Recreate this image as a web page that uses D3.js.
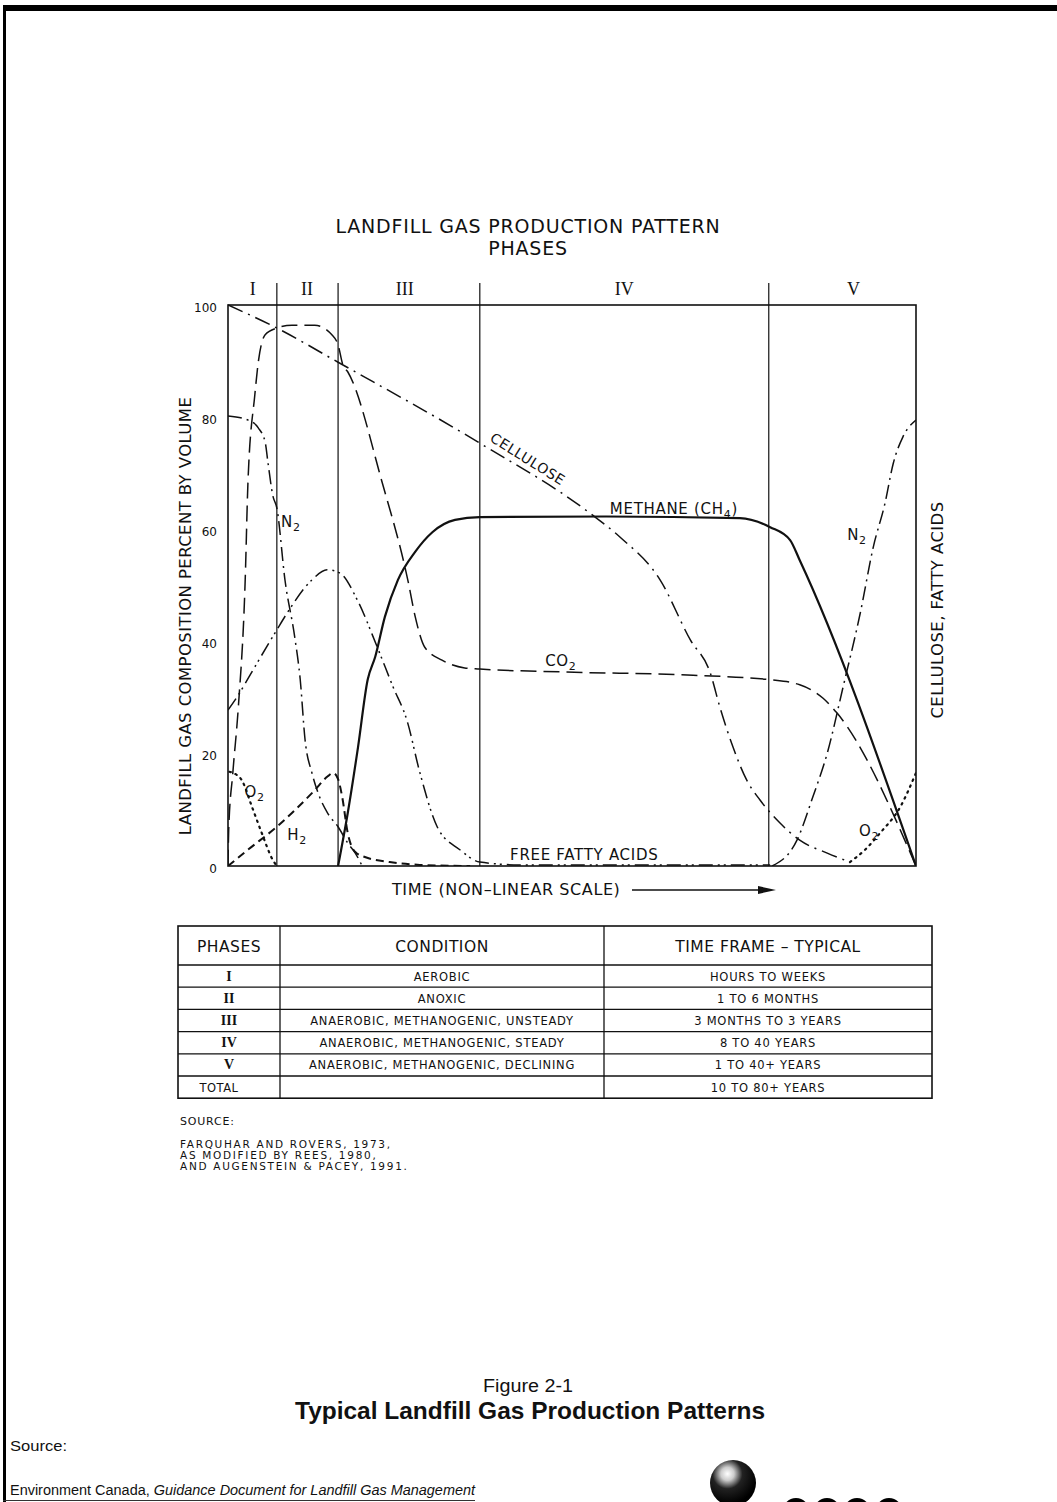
<!DOCTYPE html>
<html>
<head>
<meta charset="utf-8">
<script src="https://cdn.jsdelivr.net/npm/d3@7"></script>
<style>
  body { margin: 0; background: #fff; }
  svg { display: block; }
</style>
</head>
<body>
<svg id="chart"></svg>
<script>
// landfill gas production pattern (Farquhar & Rovers)

// ---- data (time in relative units 0..100, values in % by volume) ----
const yTicks = [0, 20, 40, 60, 80, 100];
const phaseNames = ["I", "II", "III", "IV", "V"];
const phaseBounds = [0, 7.1, 16.0, 36.6, 78.6, 100];
const phaseLabelAt = [3.6, 11.5, 25.7, 57.6, 90.9];

const methane = [[16.0, 0], [17.4, 9.4], [18.9, 21.2], [20.3, 33.2], [21.4, 37.3], [22.8, 44.4],
  [24.7, 51.0], [27.2, 56.0], [29.7, 59.5], [33.0, 61.7], [36.6, 62.2], [55.0, 62.3], [74.4, 62.0],
  [78.8, 60.4], [81.7, 58.1], [83.1, 54.5], [100, 0]];

const co2 = [[0, 0], [0.1, 6.4], [0.7, 16.6], [1.5, 28.3], [2.5, 51.0], [2.9, 68.4], [3.9, 84.0],
  [4.4, 89.8], [5.4, 94.7], [7.1, 95.9], [9.3, 96.4], [12.6, 96.4], [15.1, 94.7], [16.0, 92.9],
  [16.7, 89.3], [17.4, 88.1], [22.4, 68.4], [26.2, 50.6], [27.2, 44.5], [28.6, 39.0], [31.1, 36.7],
  [34.4, 35.3], [36.6, 35.1], [48.3, 34.6], [67.6, 34.0], [78.8, 33.2], [83.1, 32.3], [86.5, 29.9],
  [88.5, 27.3], [100, 0]];

const n2Early = [[0, 80.2], [2.9, 79.5], [4.4, 78.1], [5.4, 75.6], [5.8, 72.0], [6.5, 66.1],
  [7.1, 63.8], [8.3, 50.8], [9.7, 40.8], [10.5, 33.2], [11.2, 22.5], [12.2, 16.6], [13.1, 13.0],
  [14.5, 9.4], [16.0, 7.0], [17.4, 4.1], [18.5, 2.3], [19.5, 0]];

const n2Late = [[79.1, 0], [82.7, 4.6], [85.0, 12.3], [87.1, 20.1], [89.4, 31.9], [91.9, 45.1],
  [93.8, 56.9], [95.5, 64.7], [96.7, 71.8], [98.1, 76.5], [100, 79.5]];

const h2 = [[0, 0], [2.9, 2.9], [7.1, 7.0], [12.6, 13.5], [14.5, 16.0], [15.3, 16.6], [16.0, 15.5],
  [16.6, 12.3], [17.4, 5.9], [18.5, 2.5], [19.9, 1.6], [23.5, 0.7], [27.9, 0.2], [35.2, 0]];

const o2Early = [[0.2, 16.8], [0.7, 16.6], [2.0, 15.3], [3.5, 10.5], [4.9, 5.9], [6.5, 1.1], [7.1, 0]];
const o2Late = [[90.4, 0.7], [92.6, 2.9], [94.8, 5.9], [97.7, 10.5], [100, 16.6]];

const cellulose = [[0, 100], [7.1, 95.9], [16.0, 89.8], [36.3, 75.6], [52.6, 62.9], [57.0, 58.6],
  [62.8, 51.0], [67.2, 40.3], [70.1, 34.4], [71.5, 28.3], [73.4, 21.2], [75.4, 15.3], [77.3, 11.8],
  [80.2, 7.7], [83.1, 4.6], [87.1, 2.3], [90.4, 0.7]];

const fattyAcids = [[0, 27.8], [1.3, 30.1], [3.9, 35.5], [7.1, 42.1], [8.7, 45.3], [12.2, 51.0],
  [14.4, 52.8], [16.3, 52.2], [18.8, 47.4], [21.7, 39.0], [24.0, 31.9], [26.0, 26.0], [27.9, 16.6],
  [30.4, 7.0], [33.7, 2.9], [36.6, 0.7], [42.4, 0.2], [78.8, 0.2]];

// table rows
const tableHeaders = ["PHASES", "CONDITION", "TIME FRAME \u2013 TYPICAL"];
const tablePhases = ["I", "II", "III", "IV", "V", "TOTAL"];
const tableConditions = ["AEROBIC", "ANOXIC", "ANAEROBIC, METHANOGENIC, UNSTEADY",
  "ANAEROBIC, METHANOGENIC, STEADY", "ANAEROBIC, METHANOGENIC, DECLINING", ""];
const tableTimes = ["HOURS TO WEEKS", "1 TO 6 MONTHS", "3 MONTHS TO 3 YEARS", "8 TO 40 YEARS",
  "1 TO 40+ YEARS", "10 TO 80+ YEARS"];

const sourceLines = ["FARQUHAR AND ROVERS, 1973,", "AS MODIFIED BY REES, 1980,", "AND AUGENSTEIN & PACEY, 1991."];

// ---- layout ----
const W = 1057, H = 1502;
const CAD = "'DejaVu Sans', sans-serif";
const ROMAN = "'Liberation Serif', 'DejaVu Serif', serif";
const NARROW = "'Liberation Sans Narrow', 'Liberation Sans', Arial, sans-serif";

const svg = d3.select("#chart").attr("width", W).attr("height", H);

const plot = { left: 228, right: 916, top: 305, bottom: 866 };
const x = d3.scaleLinear().domain([0, 100]).range([plot.left, plot.right]);
const y = d3.scaleLinear().domain([0, 100]).range([plot.bottom, plot.top]);

function cadText(sel, size, spacing) {
  return sel.attr("font-family", CAD).attr("font-size", size)
    .attr("letter-spacing", spacing || 0).attr("fill", "#111");
}

// page frame
svg.append("rect").attr("x", 3).attr("y", 5).attr("width", W - 3).attr("height", 6).attr("fill", "#000");
svg.append("rect").attr("x", 3).attr("y", 5).attr("width", 3).attr("height", H - 5).attr("fill", "#000");
svg.append("line").attr("x1", 3).attr("x2", 475).attr("y1", 1500.5).attr("y2", 1500.5)
  .attr("stroke", "#333").attr("stroke-width", 1);

// title
cadText(svg.append("text"), 19, 0.8).attr("x", 528).attr("y", 233).attr("text-anchor", "middle")
  .text("LANDFILL GAS PRODUCTION PATTERN");
cadText(svg.append("text"), 19, 0.8).attr("x", 528).attr("y", 255).attr("text-anchor", "middle")
  .text("PHASES");

// phase labels + dividers
svg.selectAll(".phase-label").data(phaseNames).enter().append("text")
  .attr("class", "phase-label")
  .attr("x", (d, i) => x(phaseLabelAt[i]))
  .attr("y", 295)
  .attr("text-anchor", "middle")
  .attr("font-family", ROMAN).attr("font-size", 18).attr("fill", "#111")
  .text(d => d);

svg.selectAll(".phase-line").data(phaseBounds.slice(1, -1)).enter().append("line")
  .attr("class", "phase-line")
  .attr("x1", d => x(d)).attr("x2", d => x(d))
  .attr("y1", 283).attr("y2", plot.bottom)
  .attr("stroke", "#111").attr("stroke-width", 1.2);

// frame of the plot
svg.append("rect")
  .attr("x", plot.left).attr("y", plot.top)
  .attr("width", plot.right - plot.left).attr("height", plot.bottom - plot.top)
  .attr("fill", "none").attr("stroke", "#111").attr("stroke-width", 1.6);

// y axis labels
const yAxis = svg.append("g")
  .attr("transform", `translate(${plot.left},0)`)
  .call(d3.axisLeft(y).tickValues(yTicks).tickSize(0).tickPadding(11));
yAxis.select(".domain").remove();
yAxis.selectAll("text").attr("font-family", CAD).attr("font-size", 12).attr("fill", "#111")
  .attr("dy", "0.5em");

// axis titles
cadText(svg.append("text"), 16.5, 0.4)
  .attr("transform", "translate(191,616) rotate(-90)")
  .attr("text-anchor", "middle")
  .text("LANDFILL GAS COMPOSITION PERCENT BY VOLUME");
cadText(svg.append("text"), 16.5, 0.4)
  .attr("transform", "translate(943,610) rotate(-90)")
  .attr("text-anchor", "middle")
  .text("CELLULOSE, FATTY ACIDS");

cadText(svg.append("text"), 16, 0.6).attr("x", 392).attr("y", 895)
  .text("TIME (NON\u2013LINEAR SCALE)");
svg.append("line").attr("x1", 632).attr("x2", 762).attr("y1", 890).attr("y2", 890)
  .attr("stroke", "#111").attr("stroke-width", 1.5);
svg.append("path").attr("d", "M758,886 L776,890 L758,894 Z").attr("fill", "#111");

// curves
svg.append("clipPath").attr("id", "plot-clip").append("rect")
  .attr("x", plot.left).attr("y", plot.top - 2)
  .attr("width", plot.right - plot.left).attr("height", plot.bottom - plot.top + 2);

const line = d3.line()
  .x(d => x(d[0]))
  .y(d => y(d[1]))
  .curve(d3.curveMonotoneX);

const curves = [
  { data: cellulose, dash: "16,6,2,6", width: 1.5 },
  { data: fattyAcids, dash: "14,5,2,4,2,5", width: 1.5 },
  { data: co2, dash: "16,7", width: 1.5 },
  { data: n2Early, dash: "14,5,2,5", width: 1.5 },
  { data: n2Late, dash: "14,5,2,5", width: 1.5 },
  { data: h2, dash: "8,5", width: 2 },
  { data: o2Early, dash: "1.5,5", width: 2.2 },
  { data: o2Late, dash: "1.5,5", width: 2.2 },
  { data: methane, dash: null, width: 2.2 }
];

const curveG = svg.append("g").attr("clip-path", "url(#plot-clip)");
curveG.selectAll("path").data(curves).enter().append("path")
  .attr("d", d => line(d.data))
  .attr("fill", "none")
  .attr("stroke", "#111")
  .attr("stroke-width", d => d.width)
  .attr("stroke-dasharray", d => d.dash)
  .attr("stroke-linecap", d => d.dash && d.dash.startsWith("1.5") ? "round" : "butt");

// curve labels (anchored in data units)
const curveLabels = [
  { main: "METHANE (CH", sub: "4", tail: ")", t: 55.5, v: 62.7 },
  { main: "CO", sub: "2", tail: "", t: 46.1, v: 35.7 },
  { main: "FREE FATTY ACIDS", sub: "", tail: "", t: 41.0, v: 1.1 },
  { main: "N", sub: "2", tail: "", t: 7.7, v: 60.4 },
  { main: "H", sub: "2", tail: "", t: 8.6, v: 4.6 },
  { main: "O", sub: "2", tail: "", t: 2.4, v: 12.3 },
  { main: "N", sub: "2", tail: "", t: 90.0, v: 58.1 },
  { main: "O", sub: "2", tail: "", t: 91.7, v: 5.3 }
];

curveLabels.forEach(l => {
  const t = cadText(svg.append("text"), 15, 0.7).attr("x", x(l.t)).attr("y", y(l.v));
  t.append("tspan").text(l.main);
  if (l.sub) t.append("tspan").attr("font-size", 11).attr("dy", 4).text(l.sub);
  if (l.tail) t.append("tspan").attr("dy", -4).text(l.tail);
});

cadText(svg.append("text"), 14, 0.6)
  .attr("transform", `translate(${x(43.2)},${y(71.8)}) rotate(32)`)
  .attr("text-anchor", "middle")
  .text("CELLULOSE");

// ---- table ----
const cols = [178, 280, 604, 932];
const headTop = 926, headBottom = 965, rowH = 22.2;
const tableBottom = headBottom + rowH * tablePhases.length;
const tg = svg.append("g").attr("stroke", "#111");

tg.append("rect").attr("x", cols[0]).attr("y", headTop)
  .attr("width", cols[3] - cols[0]).attr("height", tableBottom - headTop)
  .attr("fill", "none").attr("stroke-width", 1.6);
cols.slice(1, 3).forEach(c => {
  tg.append("line").attr("x1", c).attr("x2", c).attr("y1", headTop).attr("y2", tableBottom)
    .attr("stroke-width", 1.3);
});
d3.range(tablePhases.length).forEach(i => {
  const yy = headBottom + rowH * i;
  tg.append("line").attr("x1", cols[0]).attr("x2", cols[3]).attr("y1", yy).attr("y2", yy)
    .attr("stroke-width", 1.3);
});

const colMid = [(cols[0] + cols[1]) / 2, (cols[1] + cols[2]) / 2, (cols[2] + cols[3]) / 2];
tableHeaders.forEach((h, i) => {
  cadText(svg.append("text"), 15.5, 0.5).attr("x", colMid[i]).attr("y", 952)
    .attr("text-anchor", "middle").text(h);
});

tablePhases.forEach((p, i) => {
  const base = headBottom + rowH * i + rowH / 2 + 4.5;
  if (p === "TOTAL") {
    cadText(svg.append("text"), 11.5, 0.5).attr("x", 219).attr("y", base)
      .attr("text-anchor", "middle").text(p);
  } else {
    svg.append("text").attr("x", colMid[0]).attr("y", base).attr("text-anchor", "middle")
      .attr("font-family", ROMAN).attr("font-size", 14).attr("font-weight", "bold")
      .attr("fill", "#111").text(p);
  }
  cadText(svg.append("text"), 11.5, 0.75).attr("x", colMid[1]).attr("y", base)
    .attr("text-anchor", "middle").text(tableConditions[i]);
  cadText(svg.append("text"), 11.5, 0.75).attr("x", colMid[2]).attr("y", base)
    .attr("text-anchor", "middle").text(tableTimes[i]);
});

// source block under the table
cadText(svg.append("text"), 11, 0.8).attr("x", 180).attr("y", 1125).text("SOURCE:");
sourceLines.forEach((s, i) => {
  cadText(svg.append("text"), 10.5, 1.7).attr("x", 180).attr("y", 1148 + i * 11).text(s);
});

// ---- footer ----
svg.append("text").attr("x", 528).attr("y", 1392).attr("text-anchor", "middle")
  .attr("font-family", NARROW).attr("font-size", 18).attr("fill", "#111")
  .attr("textLength", 90).attr("lengthAdjust", "spacingAndGlyphs")
  .text("Figure 2-1");
svg.append("text").attr("x", 530).attr("y", 1419).attr("text-anchor", "middle")
  .attr("font-family", NARROW).attr("font-size", 24).attr("font-weight", "bold").attr("fill", "#111")
  .attr("textLength", 470).attr("lengthAdjust", "spacingAndGlyphs")
  .text("Typical Landfill Gas Production Patterns");

svg.append("text").attr("x", 10).attr("y", 1451)
  .attr("font-family", NARROW).attr("font-size", 14).attr("fill", "#111")
  .attr("textLength", 57).attr("lengthAdjust", "spacingAndGlyphs")
  .text("Source:");
const src = svg.append("text").attr("x", 10).attr("y", 1495)
  .attr("font-family", NARROW).attr("font-size", 14).attr("fill", "#111")
  .attr("textLength", 465).attr("lengthAdjust", "spacingAndGlyphs");
src.append("tspan").text("Environment Canada, ");
src.append("tspan").attr("font-style", "italic").text("Guidance Document for Landfill Gas Management");

// logo (sphere + cut-off letters)
const grad = svg.append("defs").append("radialGradient").attr("id", "ball")
  .attr("cx", "38%").attr("cy", "30%").attr("r", "65%");
grad.append("stop").attr("offset", "0%").attr("stop-color", "#fff");
grad.append("stop").attr("offset", "22%").attr("stop-color", "#ccc");
grad.append("stop").attr("offset", "50%").attr("stop-color", "#222");
grad.append("stop").attr("offset", "100%").attr("stop-color", "#000");
svg.append("circle").attr("cx", 733).attr("cy", 1483).attr("r", 23).attr("fill", "url(#ball)");
[796, 827, 857, 889].forEach(cx => {
  svg.append("ellipse").attr("cx", cx).attr("cy", 1513).attr("rx", 14).attr("ry", 15).attr("fill", "#000");
});
</script>
</body>
</html>
